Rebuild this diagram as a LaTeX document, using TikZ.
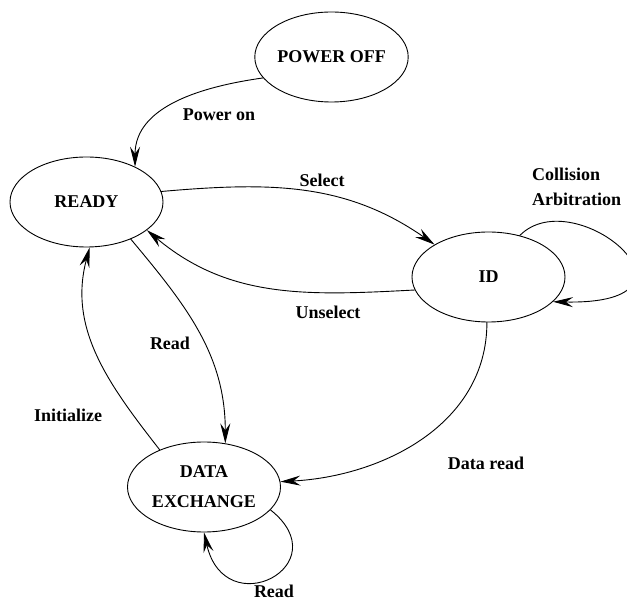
\documentclass[tikz,border=0pt]{standalone}
\usepackage{fontspec}
\setmainfont{Liberation Serif}
\usetikzlibrary{arrows.meta, shapes.geometric}

\begin{document}
\begin{tikzpicture}[x=1pt, y=1pt, style={line cap = round},
		state/.style={draw, ellipse, line width=0.9pt, minimum width=153pt, minimum height=90pt, inner sep=0pt, align=center},
		trans/.style={line width=0.9pt, -{Stealth[length=20pt, width=10pt, inset=7pt]}},
		lbl/.style={inner sep=0pt}]
	\fontsize{18}{21}\selectfont\bfseries
	\useasboundingbox (0,0) rectangle (627,-601);
	% states
	\node[state] (poweroff) at (331.5,-57) {POWER OFF};
	\node[state] (ready) at (86.5,-202) {READY};
	\node[state] (id) at (488.5,-277) {ID};
	\node[state] (dx) at (204,-487) {DATA\\[9pt]EXCHANGE};
	% transitions
	\draw[trans] (poweroff.197) to[out=188, in=90] (ready.36);
	\draw[trans] (ready.8) to[out=5, in=145] (id.149);
	\draw[trans] (id.190) to[out=183, in=-40] (ready.-25);
	\draw[trans] (id.53) .. controls (575,-180) and (722,-305) .. (id.-21);
	\draw[trans] (ready.-40) to[out=-50, in=90] (dx.64);
	\draw[trans] (dx.140) to[out=128, in=-105] (ready.-86);
	\draw[trans] (id.-92) to[out=-90, in=3] (dx.4);
	\draw[trans] (dx.-19) .. controls (340,-565) and (225,-625) .. (dx.-90);
	% labels
	\node[lbl] (lpoweron) at (219,-115) {Power on};
	\node[lbl] (lselect) at (322,-180) {Select};
	\node[lbl] (lunselect) at (328,-312) {Unselect};
	\node[lbl, align=left, anchor=west] (lcollision) at (532,-187) {Collision\\[4pt]Arbitration};
	\node[lbl] (lread) at (170,-343) {Read};
	\node[lbl] (linit) at (68,-415) {Initialize};
	\node[lbl] (ldataread) at (486,-463) {Data read};
	\node[lbl] (lreadloop) at (274,-591) {Read};
\end{tikzpicture}
\end{document}
